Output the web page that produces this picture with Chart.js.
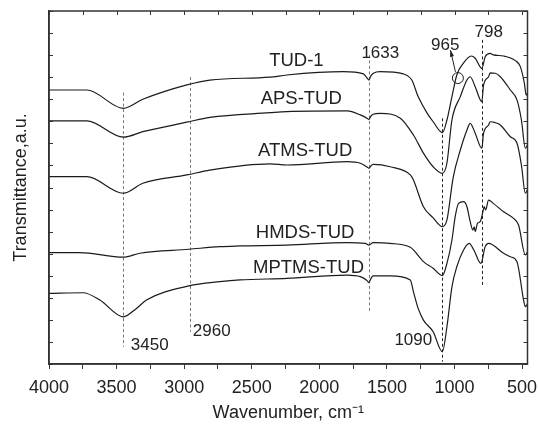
<!DOCTYPE html>
<html>
<head>
<meta charset="utf-8">
<script src="https://cdn.jsdelivr.net/npm/chart.js@4.4.1/dist/chart.umd.min.js"></script>
<style>
  html, body { margin: 0; padding: 0; background: #fff; }
  #wrap { width: 538px; height: 428px; }
</style>
</head>
<body>
<div id="wrap"><canvas id="ftir"></canvas></div>
<script>
/* ── data: [wavenumber cm-1, transmittance a.u.] ── */
const TUD1 = [
  [4000,12.42],[3720,12.42],[3450,11.59],[3306,12.00],[2980,12.65],[2810,12.87],
  [2365,13.00],[2240,13.10],[1824,13.25],[1674,13.15],[1645,12.95],[1633,12.87],[1620,13.05],[1600,13.18],
  [1550,13.25],[1379,13.15],[1316,12.87],[1269,12.12],[1204,11.38],[1158,10.98],
  [1090,10.49],[1056,11.06],[1019,12.12],[983,13.10],[935,13.63],[876,13.96],
  [847,13.86],[798,13.40],[773,13.93],[736,14.08],[713,14.01],[637,13.96],
  [550,13.75],[513,13.48],[483,12.72],[470,12.19],[460,12.28]
];
const APS_TUD = [
  [4000,11.02],[3720,11.02],[3450,10.28],[3306,10.53],[2980,10.96],[2810,11.18],
  [2365,11.39],[2240,11.44],[1793,11.47],[1697,11.29],[1645,11.13],[1633,11.08],[1620,11.22],[1602,11.32],
  [1550,11.36],[1401,11.14],[1304,10.38],[1230,9.56],[1158,8.94],[1090,8.64],
  [1056,9.11],[1019,11.06],[957,12.12],[908,12.87],[884,13.02],[847,12.57],
  [798,11.89],[785,12.65],[748,13.02],[736,13.20],[699,13.18],[661,13.02],
  [587,12.42],[538,11.97],[505,11.06],[476,9.78],[460,9.93]
];
const ATMS_TUD = [
  [4000,8.49],[3720,8.49],[3450,7.74],[3306,8.19],[2980,8.57],[2810,8.79],
  [2365,9.07],[2240,9.02],[1793,9.17],[1697,9.10],[1645,8.92],[1633,8.87],[1620,8.97],[1602,9.05],
  [1476,8.94],[1327,8.57],[1304,8.34],[1230,7.13],[1158,6.62],[1090,6.22],
  [1056,6.53],[1010,8.45],[957,9.70],[908,10.61],[884,10.91],[847,10.46],
  [798,9.78],[785,10.46],[748,10.83],[736,10.98],[699,10.94],[661,10.83],
  [587,10.30],[538,10.02],[505,9.02],[476,7.74],[460,7.89]
];
const HMDS_TUD = [
  [4000,5.05],[3773,5.05],[3450,4.84],[3328,5.02],[2965,5.20],[2736,5.32],
  [2587,5.35],[2240,5.39],[1793,5.50],[1660,5.47],[1633,5.39],[1602,5.50],
  [1476,5.47],[1327,5.29],[1304,5.17],[1230,4.64],[1158,4.34],[1090,4.01],
  [1056,4.56],[1019,5.62],[995,6.68],[970,7.28],[933,7.36],[908,7.13],
  [884,6.45],[864,6.07],[854,6.22],[847,6.00],[830,6.38],[810,6.45],
  [790,6.90],[780,7.13],[770,6.98],[748,7.43],[713,7.28],[637,6.90],
  [563,6.60],[526,6.30],[476,4.94],[460,5.08]
];
const MPTMS_TUD = [
  [4000,3.20],[3748,3.23],[3624,2.90],[3450,2.14],[3353,2.52],[3279,2.90],
  [2965,3.54],[2736,3.73],[2587,3.81],[2240,3.88],[1793,4.03],[1697,3.96],
  [1650,3.80],[1633,3.69],[1618,3.88],[1602,3.99],[1476,3.99],[1327,3.81],[1304,3.28],[1269,2.52],
  [1230,1.99],[1158,1.46],[1090,0.56],[1056,1.69],[1019,3.50],[983,4.41],
  [933,5.17],[891,5.47],[857,5.17],[805,4.56],[773,5.32],[748,5.47],
  [637,5.02],[587,4.86],[538,4.64],[489,2.90],[476,2.60],[460,2.72]
];

const X_TICKS = [4000,3750,3500,3250,3000,2750,2500,2250,2000,1750,1500,1250,1000,750,500];
const Y_TICKS = [0,1,2,3,4,5,6,7,8,9,10,11,12,13,14,15,16];

// series names with label anchor [wavenumber, value]
const SERIES_LABELS = [
  ['TUD-1', 2170, 13.74],
  ['APS-TUD', 2134, 12.01],
  ['ATMS-TUD', 2105, 9.68],
  ['HMDS-TUD', 2105, 5.96],
  ['MPTMS-TUD', 2080, 4.37],
];

// dashed peak markers: wavenumber, from, to
const MARKERS = [
  [3450, 12.30, 0.78],
  [2960, 13.01, 1.46],
  [1633, 14.01, 2.30],
  [1090, 11.14, 0.10],
  [798, 14.69, 3.58],
];

// peak labels: text, wavenumber, value, align
const PEAK_LABELS = [
  ['3450', 3395, 0.86, 'left'],
  ['2960', 2936, 1.46, 'left'],
  ['1633', 1549, 14.10, 'center'],
  ['1090', 1165, 1.09, 'right'],
  ['798', 747, 15.03, 'center'],
  ['965', 1069, 14.46, 'center'],
];

const FONT = 'Liberation Sans, Arial, Helvetica, sans-serif';
const INK = '#1b1b1b';
const AXIS = '#333';

function spectrum(points) {
  return {
    data: points.map(p => ({ x: p[0], y: p[1] })),
    showLine: true,
    borderColor: INK,
    borderWidth: 1.2,
    pointRadius: 0,
    cubicInterpolationMode: 'monotone',
    fill: false,
  };
}

/* ── overlay: inward ticks, frame, markers, labels ── */
const overlay = {
  id: 'overlay',
  beforeDatasetsDraw(chart) {
    const { ctx, scales: { x, y } } = chart;
    ctx.save();
    ctx.lineWidth = 1;
    ctx.setLineDash([3, 2.5]);
    MARKERS.forEach(([w, a, b]) => {
      ctx.strokeStyle = (w === 1090 || w === 798) ? '#222' : '#777';
      const px = Math.round(x.getPixelForValue(w)) + 0.5;
      ctx.beginPath();
      ctx.moveTo(px, y.getPixelForValue(a));
      ctx.lineTo(px, y.getPixelForValue(b));
      ctx.stroke();
    });
    ctx.restore();
  },
  afterDatasetsDraw(chart) {
    const { ctx, chartArea: a, scales: { x, y } } = chart;
    ctx.save();
    // frame
    ctx.strokeStyle = AXIS;
    ctx.lineWidth = 1.5;
    ctx.strokeRect(a.left, a.top, a.right - a.left, a.bottom - a.top);
    // inward ticks
    ctx.lineWidth = 1;
    X_TICKS.forEach(v => {
      const px = Math.round(x.getPixelForValue(v)) + 0.5;
      ctx.beginPath();
      ctx.moveTo(px, a.top);
      ctx.lineTo(px, a.top + 4);
      ctx.stroke();
    });
    Y_TICKS.forEach(v => {
      const py = Math.round(y.getPixelForValue(v)) + 0.5;
      ctx.beginPath();
      ctx.moveTo(a.left, py); ctx.lineTo(a.left + 4, py);
      ctx.moveTo(a.right, py); ctx.lineTo(a.right - 4, py);
      ctx.stroke();
    });
    // series names
    ctx.fillStyle = '#222';
    ctx.textBaseline = 'middle';
    ctx.textAlign = 'center';
    ctx.font = '18.5px ' + FONT;
    SERIES_LABELS.forEach(([t, w, v]) => {
      ctx.fillText(t, x.getPixelForValue(w), y.getPixelForValue(v));
    });
    // peak labels
    ctx.font = '17px ' + FONT;
    PEAK_LABELS.forEach(([t, w, v, al]) => {
      ctx.textAlign = al;
      ctx.fillText(t, x.getPixelForValue(w), y.getPixelForValue(v));
    });
    // 965 circle + arrow
    ctx.strokeStyle = '#222';
    ctx.lineWidth = 1;
    ctx.beginPath();
    ctx.arc(x.getPixelForValue(975), y.getPixelForValue(12.96), 5.5, 0, Math.PI * 2);
    ctx.stroke();
    const x0 = x.getPixelForValue(993), y0 = y.getPixelForValue(13.24);
    const x1 = x.getPixelForValue(1030), y1 = y.getPixelForValue(14.23);
    ctx.beginPath();
    ctx.moveTo(x0, y0); ctx.lineTo(x1, y1); ctx.stroke();
    const ang = Math.atan2(y1 - y0, x1 - x0);
    ctx.fillStyle = '#222';
    ctx.beginPath();
    ctx.moveTo(x1, y1);
    ctx.lineTo(x1 - 7 * Math.cos(ang - 0.3), y1 - 7 * Math.sin(ang - 0.3));
    ctx.lineTo(x1 - 7 * Math.cos(ang + 0.3), y1 - 7 * Math.sin(ang + 0.3));
    ctx.closePath();
    ctx.fill();
    ctx.restore();
  }
};

new Chart(document.getElementById('ftir'), {
  type: 'scatter',
  data: {
    datasets: [
      spectrum(TUD1),
      spectrum(APS_TUD),
      spectrum(ATMS_TUD),
      spectrum(HMDS_TUD),
      spectrum(MPTMS_TUD),
    ]
  },
  options: {
    responsive: true,
    maintainAspectRatio: false,
    animation: false,
    layout: { padding: { top: 11, right: 10.5, left: 2, bottom: 0 } },
    plugins: { legend: { display: false }, tooltip: { enabled: false } },
    scales: {
      x: {
        type: 'linear',
        reverse: true,
        min: 460,
        max: 4000,
        afterBuildTicks: s => { s.ticks = X_TICKS.map(v => ({ value: v })); },
        afterFit: s => { s.height = 64; s.paddingLeft = 0; s.paddingRight = 0; },
        grid: { drawOnChartArea: false, drawTicks: true, tickLength: 5, color: AXIS },
        border: { display: true, color: AXIS, width: 1.5 },
        ticks: {
          color: '#222',
          font: { family: FONT, size: 18 },
          padding: 8,
          maxRotation: 0,
          autoSkip: false,
          callback: v => (v % 500 === 0 ? String(v) : ''),
        },
        title: {
          display: true,
          text: 'Wavenumber, cm\u207B\u00B9',
          color: '#222',
          font: { family: FONT, size: 18 },
          padding: { top: 0 },
        },
      },
      y: {
        min: 0,
        max: 16,
        afterFit: s => { s.width = 47; s.paddingTop = 0; s.paddingBottom = 0; },
        grid: { display: false },
        border: { display: true, color: AXIS, width: 1.5 },
        ticks: { display: false },
        title: {
          display: true,
          text: 'Transmittance,a.u.',
          color: '#222',
          font: { family: FONT, size: 18 },
          padding: { bottom: 0, top: 8 },
        },
      }
    }
  },
  plugins: [overlay]
});
</script>
</body>
</html>
